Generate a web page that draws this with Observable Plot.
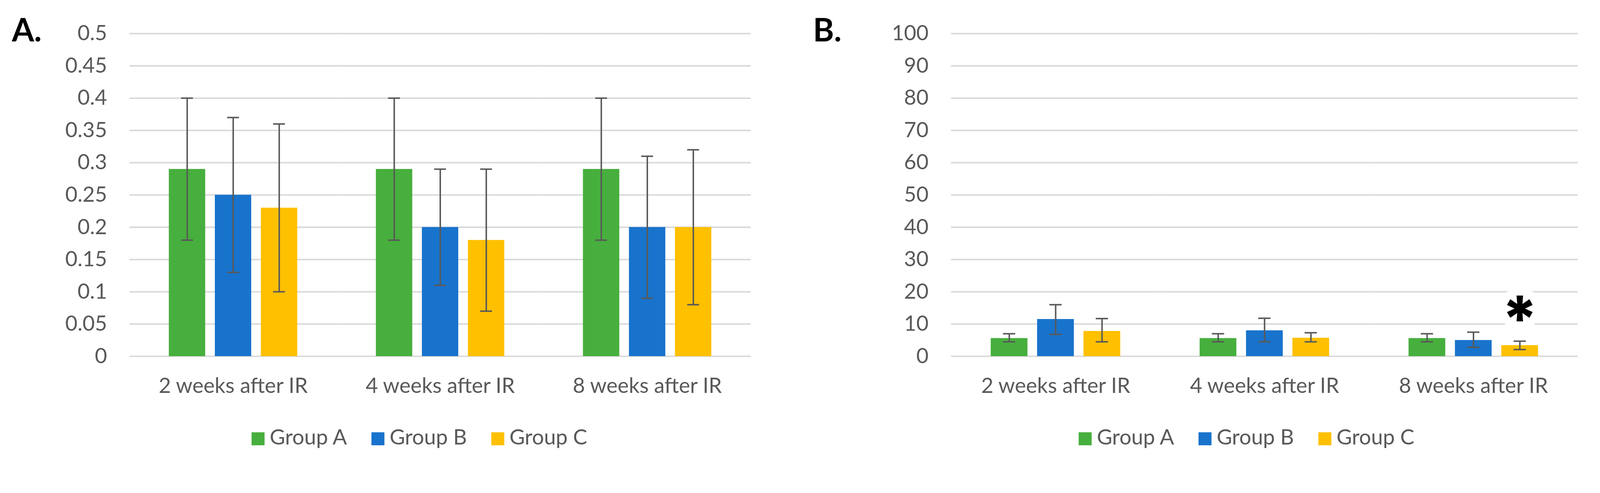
<!DOCTYPE html>
<html>
<head>
<meta charset="utf-8">
<script src="https://cdn.jsdelivr.net/npm/d3@7"></script>
<script src="https://cdn.jsdelivr.net/npm/@observablehq/plot@0.6"></script>
<style>
  html, body { margin: 0; padding: 0; background: #ffffff; overflow: hidden; }
  #page { position: relative; width: 4312px; height: 1261px; overflow: hidden; background: #fff; font-family: Lato, "Open Sans", sans-serif; transform-origin: 0 0; }
  .panel { position: absolute; top: 0; }
  .tag { position: absolute; top: 36px; font: 700 86px/1 Lato, sans-serif; color: #000; }
  .legend { position: absolute; top: 1147px; display: flex; align-items: center; font: 400 57px/1 Lato, sans-serif; color: #595959; }
  .legend .item { display: flex; align-items: center; width: 323px; }
  .legend .sw { width: 35px; height: 35px; margin-right: 14px; margin-top: 12px; }
</style>
</head>
<body>
<div id="page">
  <div class="tag" style="left:32px">A.</div>
  <div class="tag" style="left:2191px">B.</div>
  <div id="panelA" class="panel" style="left:0px; width:2156px;"></div>
  <div id="panelB" class="panel" style="left:2156px; width:2156px;"></div>
  <div id="legendA" class="legend" style="left:678px"></div>
  <div id="legendB" class="legend" style="left:2907px"></div>
</div>
<script>
// ---- data ----
const timepoints = ["2 weeks after IR", "4 weeks after IR", "8 weeks after IR"];
const groups = ["Group A", "Group B", "Group C"];
const colors = ["#47AF3D", "#1873CC", "#FFC000"];

// Panel A: rows = groups (A, B, C), columns = timepoints
const meanA = [[0.29, 0.29, 0.29], [0.25, 0.20, 0.20], [0.23, 0.18, 0.20]];
const lowA  = [[0.18, 0.18, 0.18], [0.13, 0.11, 0.09], [0.10, 0.07, 0.08]];
const highA = [[0.40, 0.40, 0.40], [0.37, 0.29, 0.31], [0.36, 0.29, 0.32]];
const yTicksA = [0, 0.05, 0.1, 0.15, 0.2, 0.25, 0.3, 0.35, 0.4, 0.45, 0.5];

// Panel B
const meanB = [[5.6, 5.6, 5.6], [11.5, 8.0, 5.0], [7.8, 5.7, 3.4]];
const lowB  = [[4.5, 4.5, 4.5], [6.8, 4.5, 2.8], [4.5, 4.5, 2.1]];
const highB = [[7.0, 7.0, 7.0], [16.0, 11.8, 7.5], [11.7, 7.3, 4.7]];
const yTicksB = [0, 10, 20, 30, 40, 50, 60, 70, 80, 90, 100];

// significance annotation (panel B)
const sigTime = ["8 weeks after IR"];
const sigGroup = ["Group C"];
const sigText = ["*"];

// fit the 4312-px design into whatever CSS viewport the browser has
const page = document.getElementById("page");
const fit = Math.min(window.innerWidth / 4312, window.innerHeight / 1261) || 1;
page.style.transform = `scale(${fit})`;

function rows(mean, low, high) {
  const out = [];
  timepoints.forEach((t, j) => groups.forEach((g, i) =>
    out.push({time: t, group: g, mean: mean[i][j], low: low[i][j], high: high[i][j]})));
  return out;
}

function panel({data, yTicks, width, marginLeft, marginRight, sig}) {
  const errStyle = {stroke: "#595959", strokeWidth: 4};
  const marks = [
    Plot.ruleY(yTicks, {stroke: "#d9d9d9", strokeWidth: 4}),
    Plot.barY(data, {fx: "time", x: "group", y: "mean", fill: "group"}),
    Plot.ruleX(data, {fx: "time", x: "group", y1: "low", y2: "high", ...errStyle}),
    Plot.tickY(data, {fx: "time", x: "group", y: "low", insetLeft: 33, insetRight: 33, ...errStyle}),
    Plot.tickY(data, {fx: "time", x: "group", y: "high", insetLeft: 33, insetRight: 33, ...errStyle})
  ];
  if (sig) {
    marks.push(Plot.text(sig, {
      fx: "time", x: "group", y: "high", text: "label",
      fontSize: 170, fontWeight: 800, fontFamily: "Inter",
      fill: "#000", stroke: "#fff", strokeWidth: 44, dy: -54
    }));
  }
  return Plot.plot({
    width, height: 1100,
    marginTop: 90, marginBottom: 141, marginLeft, marginRight,
    style: {fontFamily: "Lato", fontSize: "57px", color: "#595959", background: "transparent", overflow: "visible"},
    facet: {marginTop: 0, marginRight: 0, marginBottom: 0, marginLeft: 0},
    fx: {domain: timepoints, padding: 0, label: null, tickSize: 0, tickPadding: 58, axis: "bottom"},
    x: {domain: groups, paddingInner: 0.21, paddingOuter: 0.855, axis: null},
    y: {domain: [yTicks[0], yTicks[yTicks.length - 1]], ticks: yTicks, tickFormat: d3.format("~g"),
        tickSize: 0, tickPadding: 61, label: null},
    color: {domain: groups, range: colors},
    marks
  });
}

const dataA = rows(meanA, lowA, highA);
const dataB = rows(meanB, lowB, highB);
const sigData = sigText.map((label, k) => {
  const d = dataB.find(r => r.time === sigTime[k] && r.group === sigGroup[k]);
  return {...d, label};
});

document.getElementById("panelA").appendChild(panel({data: dataA, yTicks: yTicksA, width: 2156, marginLeft: 349, marginRight: 133}));
document.getElementById("panelB").appendChild(panel({data: dataB, yTicks: yTicksB, width: 2156, marginLeft: 407, marginRight: 60, sig: sigData}));

function legend(id) {
  const el = document.getElementById(id);
  groups.forEach((g, i) => {
    const item = document.createElement("div");
    item.className = "item";
    const sw = document.createElement("div");
    sw.className = "sw";
    sw.style.background = colors[i];
    const tx = document.createElement("span");
    tx.textContent = g;
    item.appendChild(sw); item.appendChild(tx);
    el.appendChild(item);
  });
}
legend("legendA");
legend("legendB");
</script>
</body>
</html>
